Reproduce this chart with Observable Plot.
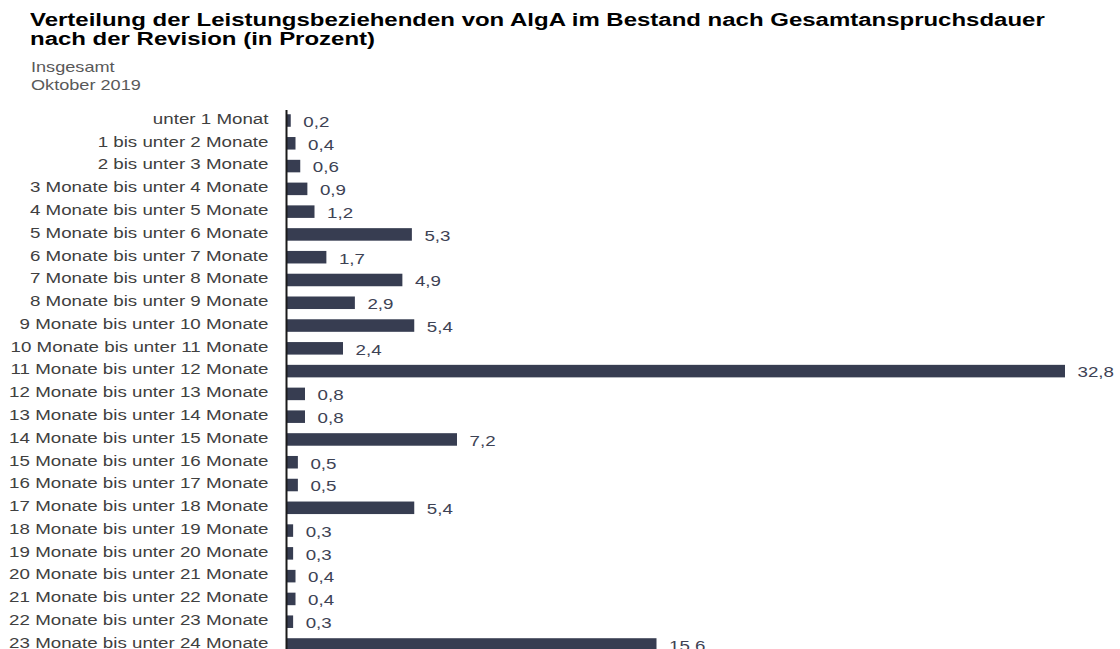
<!DOCTYPE html>
<html>
<head>
<meta charset="utf-8">
<script src="https://cdn.jsdelivr.net/npm/d3@7"></script>
<script src="https://cdn.jsdelivr.net/npm/@observablehq/plot@0.6"></script>
<style>
  html, body { margin: 0; padding: 0; background: #fff; overflow: hidden; width: 1120px; height: 649px; }
  #title { position: absolute; left: 30px; top: 11px; font-family: "Liberation Sans", Arial, sans-serif; font-weight: bold; font-size: 17.5px; line-height: 19px; color: #000; transform: scaleX(1.37); transform-origin: 0 0; white-space: nowrap; }
  #sub { position: absolute; left: 31px; top: 58px; font-family: "Liberation Sans", Arial, sans-serif; font-size: 14.5px; line-height: 18px; color: #595959; transform: scaleX(1.25); transform-origin: 0 0; white-space: nowrap; }
  #chart { position: absolute; left: 0; top: 100px; }
</style>
</head>
<body>
<div id="title">Verteilung der Leistungsbeziehenden von AlgA im Bestand nach Gesamtanspruchsdauer<br>nach der Revision (in Prozent)</div>
<div id="sub">Insgesamt<br>Oktober 2019</div>
<div id="chart"></div>
<script>
const categories = [
  "unter 1 Monat",
  "1 bis unter 2 Monate",
  "2 bis unter 3 Monate",
  "3 Monate bis unter 4 Monate",
  "4 Monate bis unter 5 Monate",
  "5 Monate bis unter 6 Monate",
  "6 Monate bis unter 7 Monate",
  "7 Monate bis unter 8 Monate",
  "8 Monate bis unter 9 Monate",
  "9 Monate bis unter 10 Monate",
  "10 Monate bis unter 11 Monate",
  "11 Monate bis unter 12 Monate",
  "12 Monate bis unter 13 Monate",
  "13 Monate bis unter 14 Monate",
  "14 Monate bis unter 15 Monate",
  "15 Monate bis unter 16 Monate",
  "16 Monate bis unter 17 Monate",
  "17 Monate bis unter 18 Monate",
  "18 Monate bis unter 19 Monate",
  "19 Monate bis unter 20 Monate",
  "20 Monate bis unter 21 Monate",
  "21 Monate bis unter 22 Monate",
  "22 Monate bis unter 23 Monate",
  "23 Monate bis unter 24 Monate"
];
const values = [0.2, 0.4, 0.6, 0.9, 1.2, 5.3, 1.7, 4.9, 2.9, 5.4, 2.4, 32.8, 0.8, 0.8, 7.2, 0.5, 0.5, 5.4, 0.3, 0.3, 0.4, 0.4, 0.3, 15.6];
const valueLabels = ["0,2", "0,4", "0,6", "0,9", "1,2", "5,3", "1,7", "4,9", "2,9", "5,4", "2,4", "32,8", "0,8", "0,8", "7,2", "0,5", "0,5", "5,4", "0,3", "0,3", "0,4", "0,4", "0,3", "15.6"];

const data = categories.map((c, i) => ({cat: c, value: values[i], label: valueLabels[i]}));

const barColor = "#373d51";

const plot = Plot.plot({
  width: 1120,
  height: 561,
  marginTop: 4,
  marginBottom: 0,
  marginLeft: 286,
  marginRight: 55,
  style: {fontFamily: "'Liberation Sans', Arial, sans-serif", fontSize: "15px", background: "transparent"},
  x: {domain: [0, 32.8], axis: null},
  y: {domain: categories, padding: 0.45, round: false, axis: null},
  marks: [
    Plot.barX(data, {x: "value", y: "cat", fill: barColor}),
    Plot.text(data, {x: 0, y: "cat", text: "cat", textAnchor: "end", dx: -18, dy: -2, fill: "#404040", fontSize: 15}),
    Plot.text(data, {x: "value", y: "cat", text: "label", textAnchor: "start", dx: 12, dy: 1, fill: "#3d4254", fontSize: 15}),
    Plot.ruleX([0], {stroke: "#1a1a1a", strokeWidth: 2, insetTop: 6})
  ]
});

// horizontally stretch the glyphs (reference text is rendered wide)
plot.querySelectorAll("text").forEach(t => {
  const tr = t.getAttribute("transform") || "";
  t.setAttribute("transform", `${tr} scale(1.25,1)`);
});

document.getElementById("chart").appendChild(plot);
</script>
</body>
</html>
